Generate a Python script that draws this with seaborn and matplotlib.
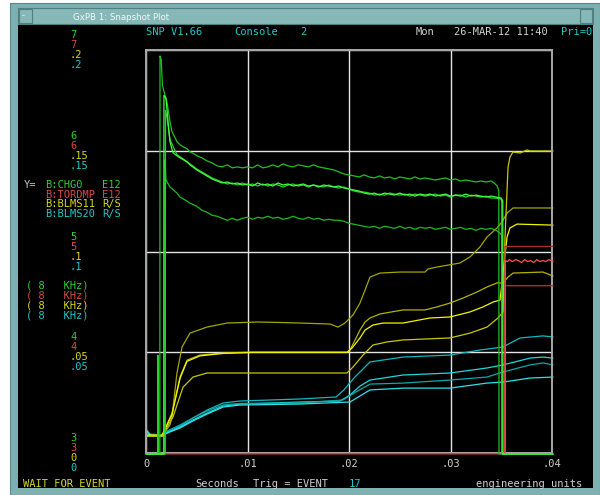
import matplotlib
matplotlib.use("Agg")
import matplotlib.pyplot as plt
from matplotlib.patches import Rectangle
import seaborn as sns

sns.set_theme(style="dark")
plt.rcParams["font.family"] = ["DejaVu Sans Mono", "DejaVu Sans"]

# ---------------- data: (seconds, value) ----------------
# B:CHG0 (E12), scale 3..7
chg0_1 = [(0, 2.99), (0.00136, 2.99), (0.00138, 6.94), (0.0015, 6.90), (0.00162, 6.65), (0.00187, 6.55),
          (0.00207, 6.48), (0.00236, 6.29), (0.00256, 6.19), (0.00305, 6.09), (0.00335, 6.06), (0.00365, 6.04),
          (0.00404, 6.02), (0.00433, 5.99), (0.0047, 5.97), (0.00502, 5.95), (0.0055, 5.93), (0.006, 5.90),
          (0.0065, 5.88), (0.007, 5.85), (0.0075, 5.84), (0.008, 5.86), (0.0085, 5.83), (0.009, 5.84),
          (0.0095, 5.83), (0.010, 5.84), (0.0105, 5.83), (0.011, 5.86), (0.0115, 5.83), (0.012, 5.84),
          (0.0125, 5.86), (0.013, 5.84), (0.0135, 5.87), (0.014, 5.85), (0.0145, 5.84), (0.015, 5.86),
          (0.0155, 5.85), (0.016, 5.84), (0.0165, 5.86), (0.017, 5.84), (0.0175, 5.83), (0.018, 5.82),
          (0.0185, 5.81), (0.019, 5.79), (0.0195, 5.77), (0.020, 5.76), (0.0205, 5.75), (0.021, 5.74),
          (0.0215, 5.76), (0.022, 5.74), (0.0225, 5.73), (0.023, 5.75), (0.0235, 5.73), (0.024, 5.74),
          (0.0245, 5.72), (0.025, 5.74), (0.0255, 5.73), (0.026, 5.72), (0.0265, 5.74), (0.027, 5.72),
          (0.0275, 5.73), (0.028, 5.72), (0.0285, 5.71), (0.029, 5.72), (0.0295, 5.73), (0.030, 5.71),
          (0.0305, 5.72), (0.031, 5.70), (0.0315, 5.71), (0.032, 5.70), (0.0325, 5.69), (0.033, 5.70),
          (0.0335, 5.69), (0.034, 5.70), (0.0343, 5.68), (0.0346, 5.65), (0.03476, 5.60), (0.03478, 2.99),
          (0.0401, 2.99)]
chg0_2 = [(0, 2.99), (0.00175, 2.99), (0.00177, 6.55), (0.00197, 6.52), (0.00217, 6.29), (0.00236, 6.09),
          (0.00266, 5.98), (0.00305, 5.95), (0.00335, 5.93), (0.00404, 5.89), (0.00433, 5.86), (0.005, 5.81),
          (0.0055, 5.78), (0.006, 5.75), (0.0065, 5.72), (0.007, 5.70), (0.0075, 5.68), (0.008, 5.69),
          (0.0085, 5.67), (0.009, 5.68), (0.0095, 5.66), (0.010, 5.67), (0.0105, 5.65), (0.011, 5.68),
          (0.0115, 5.66), (0.012, 5.67), (0.0125, 5.65), (0.013, 5.68), (0.0135, 5.66), (0.014, 5.67),
          (0.0145, 5.65), (0.015, 5.66), (0.0155, 5.67), (0.016, 5.65), (0.0165, 5.66), (0.017, 5.64),
          (0.0175, 5.66), (0.018, 5.65), (0.0185, 5.64), (0.019, 5.65), (0.0195, 5.63), (0.020, 5.62),
          (0.0205, 5.61), (0.021, 5.60), (0.0215, 5.58), (0.022, 5.57), (0.0225, 5.58), (0.023, 5.56),
          (0.0235, 5.58), (0.024, 5.57), (0.0245, 5.56), (0.025, 5.58), (0.0255, 5.56), (0.026, 5.57),
          (0.0265, 5.55), (0.027, 5.57), (0.0275, 5.56), (0.028, 5.57), (0.0285, 5.55), (0.029, 5.56),
          (0.0295, 5.57), (0.030, 5.55), (0.0305, 5.56), (0.031, 5.55), (0.0315, 5.57), (0.032, 5.55),
          (0.0325, 5.56), (0.033, 5.55), (0.0335, 5.54), (0.034, 5.55), (0.0345, 5.54), (0.035, 5.53),
          (0.03515, 5.50), (0.03517, 2.99), (0.0401, 2.99)]
chg0_3 = [(0, 2.99), (0.00116, 2.99), (0.00118, 3.97), (0.0012, 2.99), (0.0019, 2.99), (0.00192, 6.40),
          (0.00207, 6.33), (0.00236, 6.11), (0.00305, 5.96), (0.00365, 5.92), (0.00433, 5.87), (0.005, 5.82),
          (0.0055, 5.79), (0.006, 5.76), (0.0065, 5.73), (0.007, 5.71), (0.0075, 5.69), (0.008, 5.67),
          (0.0085, 5.68), (0.009, 5.66), (0.0095, 5.68), (0.010, 5.66), (0.0105, 5.67), (0.011, 5.65),
          (0.0115, 5.67), (0.012, 5.65), (0.0125, 5.67), (0.013, 5.66), (0.0135, 5.64), (0.014, 5.66),
          (0.0145, 5.67), (0.015, 5.65), (0.0155, 5.66), (0.016, 5.64), (0.0165, 5.66), (0.017, 5.65),
          (0.0175, 5.64), (0.018, 5.66), (0.0185, 5.64), (0.019, 5.63), (0.0195, 5.64), (0.020, 5.62),
          (0.0205, 5.60), (0.021, 5.59), (0.0215, 5.59), (0.022, 5.58), (0.0225, 5.56), (0.023, 5.57),
          (0.0235, 5.56), (0.024, 5.58), (0.0245, 5.57), (0.025, 5.56), (0.0255, 5.57), (0.026, 5.55),
          (0.0265, 5.57), (0.027, 5.56), (0.0275, 5.55), (0.028, 5.56), (0.0285, 5.57), (0.029, 5.55),
          (0.0295, 5.56), (0.030, 5.54), (0.0305, 5.56), (0.031, 5.56), (0.0315, 5.54), (0.032, 5.56),
          (0.0325, 5.55), (0.033, 5.54), (0.0335, 5.55), (0.034, 5.53), (0.0345, 5.53), (0.035, 5.52),
          (0.03505, 5.48), (0.03507, 2.99), (0.0401, 2.99)]
chg0_4 = [(0, 2.99), (0.00185, 2.99), (0.00187, 5.91), (0.00197, 5.71), (0.00236, 5.64), (0.00305, 5.58),
          (0.00335, 5.54), (0.00404, 5.50), (0.00433, 5.48), (0.005, 5.45), (0.0055, 5.41), (0.006, 5.39),
          (0.0065, 5.36), (0.007, 5.35), (0.0075, 5.33), (0.008, 5.31), (0.0085, 5.33), (0.009, 5.31),
          (0.0095, 5.33), (0.010, 5.34), (0.0105, 5.32), (0.011, 5.34), (0.0115, 5.33), (0.012, 5.35),
          (0.0125, 5.33), (0.013, 5.34), (0.0135, 5.32), (0.014, 5.33), (0.0145, 5.35), (0.015, 5.33),
          (0.0155, 5.32), (0.016, 5.34), (0.0165, 5.32), (0.017, 5.33), (0.0175, 5.31), (0.018, 5.32),
          (0.0185, 5.31), (0.019, 5.31), (0.0195, 5.30), (0.020, 5.28), (0.0205, 5.27), (0.021, 5.26),
          (0.0215, 5.25), (0.022, 5.24), (0.0225, 5.25), (0.023, 5.23), (0.0235, 5.25), (0.024, 5.24),
          (0.0245, 5.23), (0.025, 5.25), (0.0255, 5.23), (0.026, 5.24), (0.0265, 5.22), (0.027, 5.24),
          (0.0275, 5.23), (0.028, 5.24), (0.0285, 5.22), (0.029, 5.23), (0.0295, 5.24), (0.030, 5.22),
          (0.0305, 5.23), (0.031, 5.24), (0.0315, 5.22), (0.032, 5.23), (0.0325, 5.21), (0.033, 5.23),
          (0.0335, 5.22), (0.034, 5.23), (0.0345, 5.21), (0.0349, 5.18), (0.03505, 5.16), (0.03507, 2.99),
          (0.0401, 2.99)]

# B:TORDMP (E12), scale 3..7
tordmp_1 = [(0, 2.99), (0.03535, 2.99), (0.03537, 5.05), (0.0401, 5.05)]
tordmp_2 = [(0.03537, 2.99), (0.03539, 4.91), (0.0356, 4.90), (0.0358, 4.92), (0.0361, 4.90), (0.0364, 4.92),
            (0.0367, 4.91), (0.037, 4.89), (0.0373, 4.92), (0.0376, 4.90), (0.0379, 4.91), (0.0382, 4.89),
            (0.0385, 4.92), (0.0388, 4.90), (0.0391, 4.91), (0.0394, 4.90), (0.0397, 4.92), (0.0401, 4.90)]
tordmp_3 = [(0.03537, 2.99), (0.03539, 4.66), (0.0401, 4.66)]

# B:BLMS11 (R/S), scale 0..0.2
blms11_1 = [(0, 0.0084), (0.00158, 0.0084), (0.00236, 0.0139), (0.00256, 0.0179), (0.00305, 0.0397),
            (0.00355, 0.0526), (0.00433, 0.0595), (0.00601, 0.0625), (0.00798, 0.0645), (0.011, 0.0650),
            (0.013, 0.0648), (0.01517, 0.0645), (0.01813, 0.0640), (0.01892, 0.0625), (0.0196, 0.0645),
            (0.0199, 0.0660), (0.0204, 0.0685), (0.02108, 0.0744), (0.02158, 0.0809), (0.02207, 0.0873),
            (0.02305, 0.0893), (0.02502, 0.0898), (0.02749, 0.0898), (0.02778, 0.0913), (0.02867, 0.0923),
            (0.03094, 0.0943), (0.03192, 0.0973), (0.0329, 0.1022), (0.0336, 0.1072), (0.03458, 0.1117),
            (0.03507, 0.1146), (0.03557, 0.1191), (0.03616, 0.1216), (0.0401, 0.1216)]
blms11_2 = [(0, 0.0084), (0.00158, 0.0084), (0.00256, 0.0198), (0.00335, 0.0377), (0.00404, 0.0461),
            (0.00532, 0.0486), (0.00759, 0.0496), (0.0105, 0.0501), (0.0198, 0.0501), (0.0201, 0.0511),
            (0.0206, 0.0561), (0.02108, 0.0610), (0.02158, 0.0650), (0.02207, 0.0670), (0.02305, 0.0690),
            (0.02532, 0.0710), (0.02749, 0.0710), (0.02867, 0.0725), (0.02995, 0.0744), (0.03123, 0.0769),
            (0.03261, 0.0799), (0.0336, 0.0824), (0.03458, 0.0844), (0.03517, 0.0844), (0.03567, 0.0873),
            (0.03616, 0.0893), (0.03911, 0.0898), (0.0401, 0.0878)]
blms11_3 = [(0, 0.0089), (0.00158, 0.0089), (0.00256, 0.0190), (0.00335, 0.0370), (0.00404, 0.0455),
            (0.00532, 0.0482), (0.00759, 0.0494), (0.0105, 0.0499), (0.0198, 0.0499), (0.0203, 0.0521),
            (0.02108, 0.0571), (0.02158, 0.0610), (0.02236, 0.0635), (0.02335, 0.0645), (0.02532, 0.0645),
            (0.02798, 0.0670), (0.02995, 0.0675), (0.03192, 0.0700), (0.0332, 0.0725), (0.03419, 0.0749),
            (0.03488, 0.0759), (0.03557, 0.1072), (0.03586, 0.1117), (0.03655, 0.1136), (0.0401, 0.1131)]
blms11_4 = [(0, 0.0084), (0.00158, 0.0084), (0.00266, 0.0179), (0.00365, 0.0327), (0.00463, 0.0377),
            (0.00601, 0.0397), (0.0198, 0.0397), (0.0204, 0.0427), (0.02138, 0.0486), (0.02236, 0.0536),
            (0.02374, 0.0551), (0.02532, 0.0561), (0.02995, 0.0571), (0.03192, 0.0595), (0.0336, 0.0625),
            (0.03468, 0.0670), (0.03517, 0.0700), (0.03537, 0.1072), (0.03567, 0.1419), (0.03586, 0.1469),
            (0.03616, 0.1494), (0.03685, 0.1489), (0.03754, 0.1504), (0.03783, 0.1499), (0.0401, 0.1499)]

# B:BLMS20 (R/S), scale 0..0.2
blms20_1 = [(0, 0.0114), (0.0004, 0.0089), (0.00158, 0.0084), (0.00207, 0.0104), (0.00335, 0.0134),
            (0.00463, 0.0174), (0.00601, 0.0213), (0.00759, 0.0248), (0.00926, 0.0258), (0.01517, 0.0268),
            (0.01872, 0.0278), (0.0195, 0.0313), (0.02049, 0.0372), (0.02148, 0.0422), (0.02207, 0.0452),
            (0.02532, 0.0476), (0.02995, 0.0486), (0.0329, 0.0511), (0.03517, 0.0526), (0.03685, 0.0571),
            (0.03911, 0.0581), (0.0401, 0.0576)]
blms20_2 = [(0, 0.0109), (0.0004, 0.0084), (0.00158, 0.0084), (0.00207, 0.0099), (0.00335, 0.0129),
            (0.00463, 0.0164), (0.00601, 0.0198), (0.00759, 0.0233), (0.00926, 0.0243), (0.01517, 0.0253),
            (0.01911, 0.0258), (0.0201, 0.0288), (0.02108, 0.0332), (0.02207, 0.0362), (0.02532, 0.0387),
            (0.02995, 0.0397), (0.0336, 0.0422), (0.03517, 0.0437), (0.03783, 0.0471), (0.03911, 0.0476),
            (0.0401, 0.0471)]
blms20_3 = [(0, 0.0119), (0.0004, 0.0094), (0.00158, 0.0089), (0.00207, 0.0109), (0.00335, 0.0139),
            (0.00463, 0.0174), (0.00601, 0.0208), (0.00759, 0.0238), (0.00926, 0.0246), (0.01517, 0.0248),
            (0.01941, 0.0263), (0.02069, 0.0303), (0.02207, 0.0342), (0.02532, 0.0347), (0.02995, 0.0362),
            (0.0336, 0.0377), (0.03517, 0.0402), (0.03783, 0.0437), (0.03911, 0.0447), (0.0401, 0.0437)]
blms20_4 = [(0, 0.0114), (0.0004, 0.0089), (0.00158, 0.0084), (0.00207, 0.0099), (0.00335, 0.0124),
            (0.00463, 0.0159), (0.00601, 0.0193), (0.00759, 0.0228), (0.00926, 0.0238), (0.01517, 0.0243),
            (0.0201, 0.0253), (0.02108, 0.0283), (0.02207, 0.0313), (0.02532, 0.0322), (0.02995, 0.0322),
            (0.0336, 0.0347), (0.03517, 0.0352), (0.03783, 0.0372), (0.0401, 0.0377)]

x_ticks = [0, 0.01, 0.02, 0.03, 0.04]
x_labels = ["0", ".01", ".02", ".03", ".04"]
chg0_ticks = ["3", "4", "5", "6", "7"]
tordmp_ticks = ["3", "4", "5", "6", "7"]
blms11_ticks = ["0", ".05", ".1", ".15", ".2"]
blms20_ticks = ["0", ".05", ".1", ".15", ".2"]
names = ["B:CHG0", "B:TORDMP", "B:BLMS11", "B:BLMS20"]
units = ["E12", "E12", "R/S", "R/S"]

GREEN, RED, YEL, CYAN = "#30d030", "#d84848", "#d8d820", "#20c8c8"
GREY = "#d0d0d0"

W, H = 600, 495


def px(x, y):
    return x / W, 1 - y / H


fig = plt.figure(figsize=(6, 4.95), dpi=100, facecolor="white")

# window frame, title bar and black screen
fig.add_artist(Rectangle(px(10, 495), 590 / W, 492 / H, transform=fig.transFigure,
                         facecolor="#7db0b0", edgecolor="#5a8a8a", lw=0.8, zorder=0))
fig.add_artist(Rectangle(px(18, 24), 575 / W, 16 / H, transform=fig.transFigure,
                         facecolor="#86b8b8", edgecolor="#4f7f7f", lw=0.8, zorder=0))
fig.add_artist(Rectangle(px(19, 23), 13 / W, 14 / H, transform=fig.transFigure,
                         facecolor="#86b8b8", edgecolor="#4f7f7f", lw=0.8, zorder=0))
fig.add_artist(Rectangle(px(580, 23), 12 / W, 14 / H, transform=fig.transFigure,
                         facecolor="#86b8b8", edgecolor="#4f7f7f", lw=0.8, zorder=0))
fig.add_artist(Rectangle(px(18, 488), 575 / W, 463 / H, transform=fig.transFigure,
                         facecolor="black", edgecolor="none", zorder=0))
fig.text(*px(22, 16), "-", color="#e8f4f4", fontsize=6, va="center", family="DejaVu Sans")
fig.text(*px(73, 17), "GxPB 1: Snapshot Plot", color="#eef8f8", fontsize=6.2, va="center",
         family="DejaVu Sans")

# plot area
ax = fig.add_axes([146 / W, 1 - 453 / H, 406 / W, 403 / H])
ax.set_facecolor("black")
ax2 = ax.twinx()
ax2.set_facecolor("none")

blms_lines = [(blms20_1, "#10b8c0"), (blms20_2, "#20d8d8"), (blms20_3, "#10a8a8"), (blms20_4, "#30e0e8"),
              (blms11_1, "#a4a400"), (blms11_2, "#b4b400"), (blms11_3, "#f4f400"), (blms11_4, "#c8c800")]
for pts, col in blms_lines:
    t, v = zip(*pts)
    sns.lineplot(x=list(t), y=list(v), ax=ax, color=col, lw=0.9, estimator=None, sort=False,
                 legend=False, clip_on=False)

chg_lines = [(tordmp_1, "#a83030"), (tordmp_3, "#b83838"), (tordmp_2, "#ff5050"),
             (chg0_1, "#20c020"), (chg0_4, "#20b820"), (chg0_3, "#28d028"), (chg0_2, "#40ff40")]
for pts, col in chg_lines:
    t, v = zip(*pts)
    sns.lineplot(x=list(t), y=list(v), ax=ax2, color=col, lw=0.9, estimator=None, sort=False,
                 legend=False, clip_on=False)

ax.set_xlim(0, 0.04)
ax.set_ylim(0, 0.2)
ax2.set_ylim(3, 7)
ax.set_xticks(x_ticks)
ax.set_xticklabels(x_labels, color=GREY, fontsize=7.5)
ax.set_yticks([0, 0.05, 0.1, 0.15, 0.2])
ax.set_yticklabels([])
ax2.set_yticks([])
ax.tick_params(length=0, pad=4)
ax.grid(True, color="#e4e4e4", lw=1.0)
ax.set_xlabel("")
ax.set_ylabel("")
ax2.set_ylabel("")
for s in ax.spines.values():
    s.set_color("#a8a8a8")
    s.set_linewidth(1.4)
for s in ax2.spines.values():
    s.set_visible(False)

# stacked, colour-coded axis scales at the left
for i in range(5):
    gy = 453 - i * 403 / 4
    for lab, col, dy in [(chg0_ticks[i], GREEN, -15), (tordmp_ticks[i], RED, -5),
                         (blms11_ticks[i], YEL, 5), (blms20_ticks[i], CYAN, 15)]:
        fig.text(*px(70, gy + dy), lab, color=col, fontsize=7.5, va="center")

fig.text(*px(24, 185), "Y=", color="#c8c8c8", fontsize=7.5, va="center")
for k, col in enumerate([GREEN, RED, YEL, CYAN]):
    fig.text(*px(45, 185 + k * 9.7), names[k], color=col, fontsize=7.5, va="center")
    fig.text(*px(102, 185 + k * 9.7), units[k], color=col, fontsize=7.5, va="center")
    fig.text(*px(26, 286 + k * 10), "( 8   KHz)", color=col, fontsize=7.5, va="center")

# header and footer text
fig.text(*px(146, 32), "SNP V1.66", color=CYAN, fontsize=7.5, va="center")
fig.text(*px(234, 32), "Console", color=CYAN, fontsize=7.5, va="center")
fig.text(*px(300, 32), "2", color=CYAN, fontsize=7.5, va="center")
fig.text(*px(416, 32), "Mon", color=GREY, fontsize=7.5, va="center")
fig.text(*px(454, 32), "26-MAR-12 11:40", color=GREY, fontsize=7.5, va="center")
fig.text(*px(561, 32), "Pri=0", color=CYAN, fontsize=7.5, va="center")

fig.text(*px(23, 484), "WAIT FOR EVENT", color=YEL, fontsize=7.5, va="center")
fig.text(*px(195, 484), "Seconds", color=GREY, fontsize=7.5, va="center")
fig.text(*px(253, 484), "Trig = EVENT", color=GREY, fontsize=7.5, va="center")
fig.text(*px(349, 484), "17", color=CYAN, fontsize=7.5, va="center")
fig.text(*px(476, 484), "engineering units", color=GREY, fontsize=7.5, va="center")

fig.savefig("out.png", dpi=100, facecolor=fig.get_facecolor())
